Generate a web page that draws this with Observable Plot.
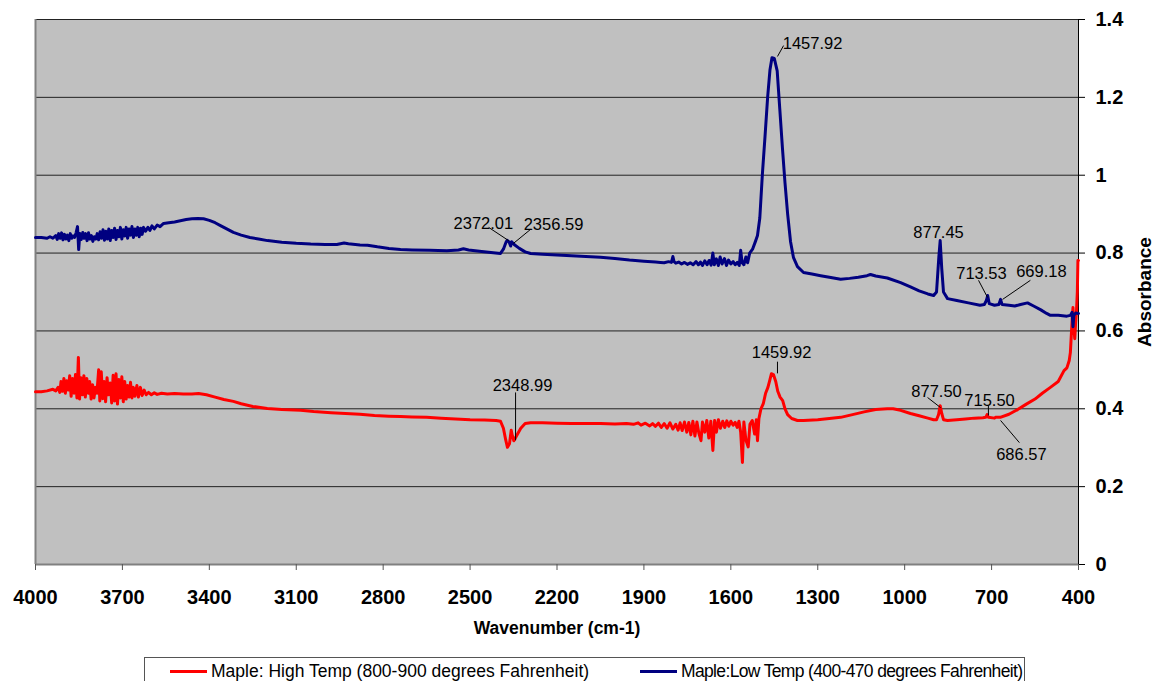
<!DOCTYPE html>
<html><head><meta charset="utf-8">
<script src="https://cdn.jsdelivr.net/npm/d3@7"></script>
<script src="https://cdn.jsdelivr.net/npm/@observablehq/plot@0.6"></script>
<style>
body{margin:0;background:#fff;font-family:"Liberation Sans",Arial,sans-serif;}
#wrap{position:relative;width:1154px;height:681px;overflow:hidden;}
#legend{position:absolute;left:144px;top:657px;width:881px;height:40px;border:1px solid #555;box-sizing:border-box;background:#fff;}
.item{position:absolute;top:3px;font-size:17.5px;line-height:20px;display:flex;align-items:center;white-space:nowrap;color:#000;}
.sw{display:inline-block;width:37px;height:3px;margin-right:4px;}
g[aria-label="y-axis tick label"] text, g[aria-label="x-axis tick label"] text{font-weight:bold;}
</style></head>
<body><div id="wrap"><div id="chart"></div><div id="legend"></div></div>
<script>
const xTicks = [4000,3700,3400,3100,2800,2500,2200,1900,1600,1300,1000,700,400];
const yTicks = [0,0.2,0.4,0.6,0.8,1.0,1.2,1.4];
const seriesNames = ["Maple: High Temp (800-900 degrees Fahrenheit)", "Maple:Low Temp (400-470 degrees Fahrenheit)"];
const seriesColors = ["#FF0000", "#000080"];

// High temperature spectrum (red)
const highWn = [4000,3980,3960,3940,3930,3922,3916,3912,3907,3902,3897,3892,3887,3882,3877,3872,3867,3862,3857,3852,3848,3843,3838,3833,3828,3823,3818,3813,3808,3803,3798,3793,3788,3782,3778,3773,3768,3763,3758,3753,3748,3742,3737,3732,3727,3722,3717,3712,3707,3702,3697,3692,3687,3682,3677,3672,3667,3662,3657,3650,3645,3638,3632,3625,3618,3610,3600,3590,3580,3565,3545,3520,3490,3460,3437,3410,3380,3350,3317,3290,3250,3200,3150,3085,3040,2980,2930,2880,2830,2780,2740,2700,2650,2600,2550,2500,2450,2410,2395,2385,2377,2371,2364,2358,2354,2349,2340,2325,2310,2291,2250,2200,2150,2100,2050,2000,1960,1936,1920,1910,1895,1880,1870,1860,1850,1840,1830,1820,1810,1800,1790,1782,1775,1768,1760,1752,1745,1738,1731,1724,1717,1710,1703,1698,1690,1683,1676,1669,1662,1656,1650,1643,1636,1628,1621,1614,1607,1600,1592,1585,1578,1572,1566,1560,1555,1548,1540,1534,1526,1518,1512,1508,1503,1496,1488,1480,1472,1465,1460,1453,1445,1438,1430,1421,1413,1404,1390,1370,1349,1300,1260,1221,1180,1140,1100,1060,1040,1014,980,950,920,900,890,883,877.5,872,866,852,820,790,760,730,720,715.5,711,690,686.6,670,640,610,580,550,525,497,470,450,440,432,428,424,421,419,416,413,410,407,404,402,400];
const highAbs = [0.444,0.444,0.446,0.450,0.446,0.455,0.442,0.470,0.445,0.478,0.440,0.472,0.448,0.485,0.432,0.478,0.440,0.488,0.428,0.532,0.425,0.480,0.436,0.485,0.430,0.478,0.440,0.470,0.425,0.462,0.428,0.455,0.440,0.500,0.420,0.495,0.426,0.470,0.418,0.480,0.436,0.466,0.415,0.486,0.420,0.490,0.412,0.475,0.428,0.482,0.418,0.470,0.425,0.460,0.430,0.468,0.428,0.455,0.432,0.460,0.430,0.455,0.434,0.448,0.436,0.442,0.436,0.441,0.437,0.440,0.438,0.439,0.438,0.438,0.439,0.436,0.430,0.424,0.419,0.413,0.406,0.401,0.398,0.396,0.393,0.390,0.388,0.386,0.383,0.381,0.380,0.379,0.378,0.376,0.374,0.372,0.371,0.370,0.368,0.350,0.320,0.301,0.310,0.345,0.330,0.318,0.330,0.350,0.362,0.364,0.364,0.363,0.362,0.362,0.362,0.361,0.362,0.360,0.364,0.358,0.363,0.356,0.362,0.355,0.363,0.352,0.362,0.350,0.364,0.348,0.360,0.345,0.364,0.344,0.366,0.340,0.365,0.333,0.368,0.330,0.366,0.336,0.318,0.366,0.340,0.370,0.325,0.368,0.293,0.370,0.340,0.372,0.350,0.368,0.352,0.369,0.355,0.368,0.358,0.365,0.352,0.368,0.340,0.262,0.366,0.320,0.302,0.360,0.370,0.335,0.372,0.318,0.375,0.400,0.413,0.440,0.455,0.475,0.490,0.488,0.470,0.445,0.430,0.421,0.400,0.385,0.375,0.370,0.370,0.372,0.375,0.378,0.385,0.392,0.398,0.400,0.400,0.396,0.388,0.382,0.376,0.372,0.372,0.385,0.408,0.388,0.372,0.370,0.372,0.374,0.376,0.377,0.378,0.385,0.378,0.376,0.378,0.378,0.386,0.398,0.412,0.425,0.440,0.455,0.470,0.498,0.505,0.524,0.545,0.600,0.640,0.660,0.610,0.580,0.620,0.650,0.700,0.781,0.781];

// Low temperature spectrum (navy)
const lowWn = [4000,3980,3960,3950,3940,3930,3925,3920,3915,3910,3905,3900,3895,3890,3885,3880,3875,3870,3865,3860,3855,3851,3847,3842,3837,3832,3827,3822,3817,3812,3807,3802,3797,3792,3787,3782,3777,3772,3767,3762,3757,3752,3747,3742,3737,3732,3727,3722,3717,3712,3707,3702,3697,3692,3687,3682,3677,3672,3667,3662,3657,3652,3647,3642,3637,3632,3627,3620,3612,3605,3598,3590,3580,3570,3558,3540,3520,3500,3480,3460,3440,3420,3400,3380,3360,3340,3317,3290,3260,3230,3199,3150,3100,3050,3000,2960,2935,2920,2880,2854,2820,2780,2740,2700,2640,2580,2540,2523,2505,2460,2420,2395,2385,2376,2372,2365,2360,2356.6,2348,2330,2310,2291,2250,2200,2150,2100,2050,2000,1950,1900,1860,1843,1830,1815,1805,1800,1796,1790,1780,1770,1760,1750,1740,1730,1720,1712,1705,1698,1690,1682,1675,1668,1662,1657,1650,1643,1637,1630,1622,1615,1608,1600,1592,1585,1578,1571,1566,1561,1555,1548,1542,1535,1525,1515,1508,1500,1491,1482,1473,1465,1458,1450,1440,1431,1422,1413,1404,1394,1384,1370,1349,1320,1290,1260,1221,1190,1160,1130,1118,1100,1060,1014,980,950,920,900,890,882,877.45,872,866,852,820,780,740,725,718,713.5,708,690,675,669,664,640,620,600,576,555,530,510,497,470,440,428,422,419,416,410,400];
const lowAbs = [0.840,0.840,0.838,0.842,0.838,0.845,0.835,0.850,0.838,0.852,0.834,0.848,0.836,0.846,0.832,0.850,0.838,0.844,0.840,0.852,0.868,0.809,0.850,0.835,0.853,0.838,0.850,0.832,0.852,0.836,0.845,0.830,0.842,0.836,0.850,0.834,0.855,0.838,0.860,0.833,0.856,0.836,0.862,0.832,0.858,0.840,0.864,0.835,0.858,0.842,0.866,0.836,0.860,0.844,0.866,0.838,0.862,0.846,0.868,0.840,0.862,0.846,0.866,0.842,0.864,0.848,0.866,0.856,0.866,0.858,0.870,0.862,0.872,0.868,0.876,0.878,0.880,0.883,0.886,0.888,0.889,0.888,0.884,0.878,0.870,0.862,0.853,0.846,0.840,0.836,0.832,0.828,0.825,0.823,0.822,0.822,0.826,0.824,0.821,0.820,0.816,0.812,0.809,0.808,0.807,0.806,0.808,0.811,0.808,0.804,0.801,0.799,0.810,0.828,0.833,0.828,0.818,0.829,0.822,0.812,0.803,0.799,0.797,0.795,0.793,0.791,0.789,0.786,0.782,0.779,0.777,0.776,0.775,0.778,0.776,0.791,0.778,0.774,0.777,0.772,0.776,0.771,0.775,0.770,0.778,0.770,0.777,0.768,0.780,0.770,0.781,0.769,0.800,0.770,0.785,0.768,0.790,0.772,0.786,0.768,0.782,0.772,0.778,0.770,0.776,0.768,0.807,0.775,0.770,0.790,0.775,0.800,0.810,0.830,0.845,0.890,1.004,1.100,1.200,1.270,1.302,1.300,1.268,1.170,1.071,0.980,0.901,0.830,0.789,0.765,0.750,0.746,0.742,0.738,0.733,0.735,0.738,0.742,0.745,0.741,0.736,0.724,0.713,0.703,0.695,0.691,0.700,0.790,0.832,0.760,0.700,0.683,0.678,0.672,0.666,0.668,0.678,0.691,0.670,0.666,0.668,0.681,0.668,0.666,0.664,0.668,0.672,0.664,0.654,0.645,0.640,0.640,0.638,0.640,0.648,0.611,0.640,0.646,0.645];

// Peak annotations (label text, label position, leader line ends) in data units
const peakLabels = ["1457.92","2372.01","2356.59","877.45","713.53","669.18","2348.99","1459.92","877.50","715.50","686.57"];
const labelWn  = [1318,2454,2212,883,735,528,2319,1425,890,707,597];
const labelAbs = [1.338,0.876,0.873,0.853,0.748,0.753,0.460,0.545,0.444,0.421,0.283];
const leaderWn1  = [1439,2436,2291,745,566,2343,1439,921,711,604];
const leaderAbs1 = [1.305,0.866,0.861,0.730,0.730,0.442,0.521,0.429,0.408,0.313];
const leaderWn2  = [1418,2367,2350,714,662,2343,1439,876,711,669];
const leaderAbs2 = [1.333,0.832,0.825,0.686,0.681,0.319,0.491,0.403,0.383,0.370];

const xLabel = "Wavenumber (cm-1)";
const yLabel = "Absorbance";

const chart = Plot.plot({
  width: 1154, height: 645,
  marginLeft: 35, marginRight: 76, marginTop: 19, marginBottom: 81,
  style: {fontFamily: "'Liberation Sans', Arial, sans-serif", color: "#000", background: "#fff"},
  x: {domain: [4000, 400]},
  y: {domain: [0, 1.4]},
  marks: [
    Plot.frame({fill: "#C0C0C0", stroke: "none"}),
    Plot.ruleY(yTicks, {stroke: "#222", strokeWidth: 1}),
    Plot.ruleX([4000], {stroke: "#808080", strokeWidth: 2}),
    Plot.ruleY([0], {stroke: "#808080", strokeWidth: 2}),
    Plot.ruleX([400], {stroke: "#000", strokeWidth: 1}),
    Plot.axisX(xTicks, {anchor: "bottom", tickSize: 6, tickPadding: 19, fontSize: 20, fontWeight: "bold", stroke: "#555", label: null, tickFormat: d => String(d)}),
    Plot.axisY(yTicks, {anchor: "right", tickSize: 6, tickPadding: 11, fontSize: 20, fontWeight: "bold", stroke: "#000", label: null, tickFormat: d => String(+d.toFixed(1))}),
    Plot.text([xLabel], {frameAnchor: "bottom", dy: 64, text: d => d, fontSize: 17.5, fontWeight: "bold", lineAnchor: "middle", textAnchor: "middle"}),
    Plot.text([yLabel], {frameAnchor: "right", dx: 66, text: d => d, rotate: -90, fontSize: 19, fontWeight: "bold", lineAnchor: "middle", textAnchor: "middle"}),
    Plot.line(highWn, {x: highWn, y: highAbs, stroke: seriesColors[0], strokeWidth: 3, strokeLinejoin: "round"}),
    Plot.line(lowWn, {x: lowWn, y: lowAbs, stroke: seriesColors[1], strokeWidth: 3, strokeLinejoin: "round"}),
    Plot.link(leaderWn1, {x1: leaderWn1, y1: leaderAbs1, x2: leaderWn2, y2: leaderAbs2, stroke: "#000", strokeWidth: 1}),
    Plot.text(peakLabels, {x: labelWn, y: labelAbs, text: d => d, fontSize: 16.5, fill: "#000"})
  ]
});
document.getElementById("chart").appendChild(chart);

const legend = document.getElementById("legend");
const legendLeft = [25, 495];
const legendSpacing = ["0px", "-0.65px"];
seriesNames.forEach((name, i) => {
  const it = document.createElement("div");
  it.className = "item";
  it.style.left = legendLeft[i] + "px";
  it.style.letterSpacing = legendSpacing[i];
  const sw = document.createElement("span");
  sw.className = "sw";
  sw.style.background = seriesColors[i];
  it.appendChild(sw);
  it.appendChild(document.createTextNode(name));
  legend.appendChild(it);
});
</script>
</body></html>
